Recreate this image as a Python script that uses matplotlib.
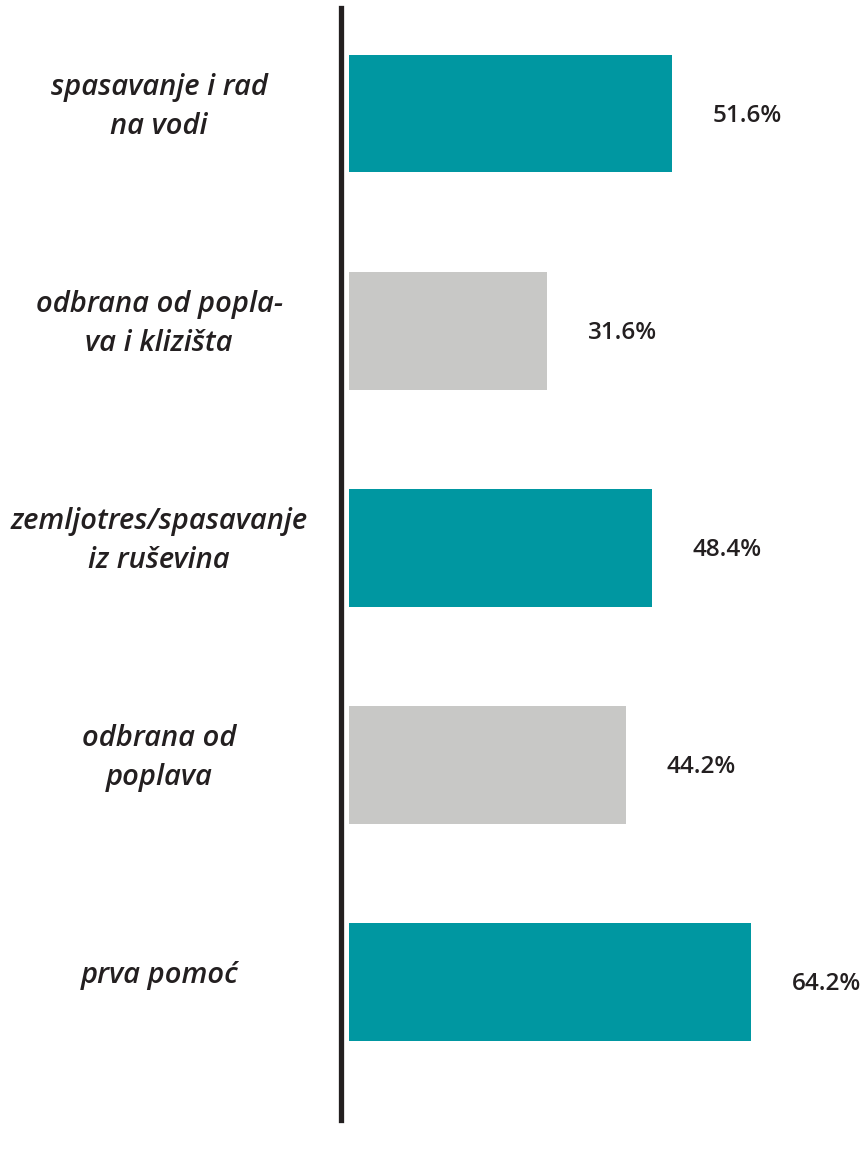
import numpy as np
import matplotlib.pyplot as plt

# Data
categories = ["spasavanje i rad\nna vodi",
              "odbrana od popla-\nva i klizišta",
              "zemljotres/spasavanje\niz ruševina",
              "odbrana od\npoplava",
              "prva pomoć"]
values = [51.6, 31.6, 48.4, 44.2, 64.2]
colors = ["#0097a1", "#c8c8c6", "#0097a1", "#c8c8c6", "#0097a1"]

ink = "#231f20"

fig = plt.figure(figsize=(8.65, 11.65), dpi=100)
ax = fig.add_axes([340.5 / 865, 45 / 1165, (865 - 340.5) / 865, 1112 / 1165])

y = np.arange(len(values))
ax.barh(y, values, height=0.54, color=colors, left=0)

ax.set_xlim(-1.35, 82.4)
ax.set_ylim(4.636, -0.488)

for yi, v in zip(y, values):
    ax.text(v + 6.5, yi + 0.01, f"{v:.1f}%", ha="left", va="center",
            fontsize=17.5, fontweight="semibold", family="Open Sans", color=ink)

# category labels, left of the axis line
for yi, c in zip(y, categories):
    ax.text(-30.3, yi - 0.03, c, ha="center", va="center", fontsize=21,
            fontweight="semibold", fontstyle="italic", family="Open Sans",
            color=ink, linespacing=1.45, clip_on=False)

for s in ["top", "right", "bottom"]:
    ax.spines[s].set_visible(False)
ax.spines["left"].set_linewidth(3.8)
ax.spines["left"].set_color(ink)
ax.set_xticks([])
ax.set_yticks([])

fig.savefig("out.png", dpi=100)
